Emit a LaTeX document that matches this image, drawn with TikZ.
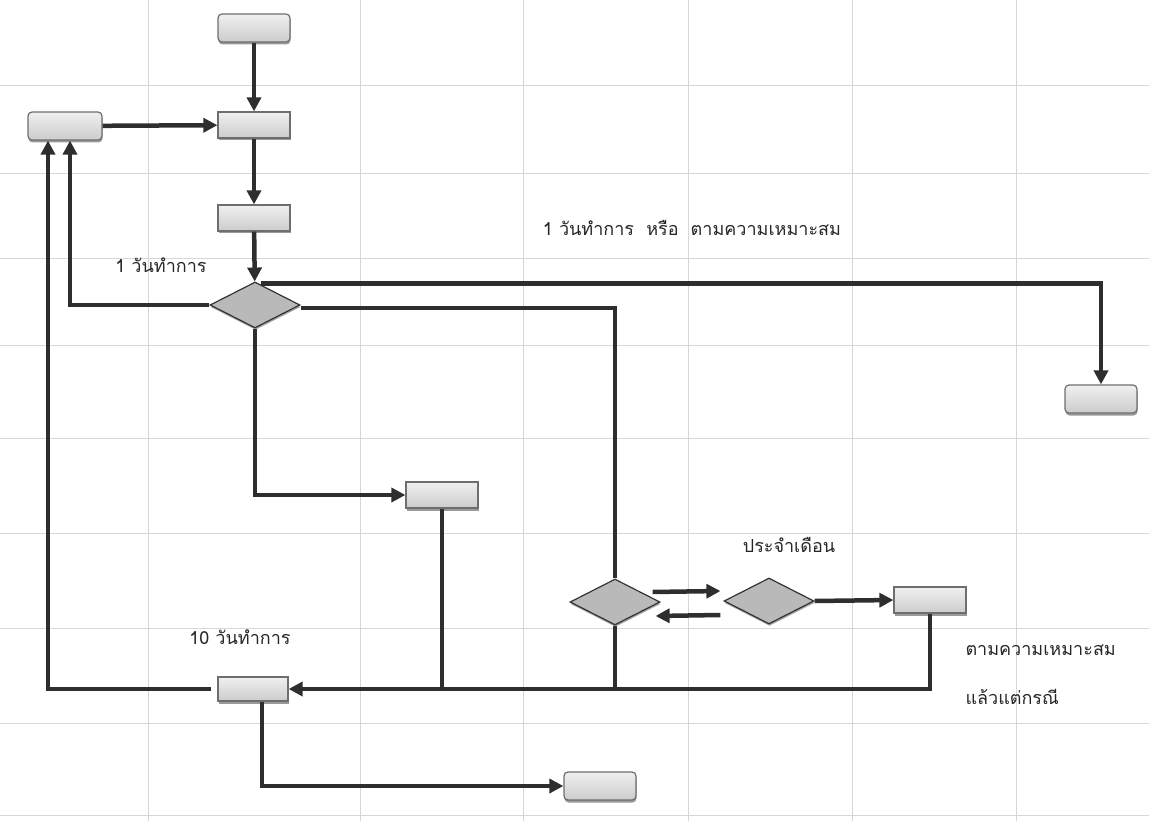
\documentclass[tikz,border=0pt]{standalone}
\usepackage{fontspec}
\newfontfamily\thaifont[Script=Thai]{Loma}
\usepackage{tikz}
\usetikzlibrary{positioning,calc,arrows.meta,shapes.geometric,shadows}
\usepackage{xcolor}
\definecolor{linegray}{HTML}{2E2E2E}
\definecolor{boxedge}{HTML}{6E6E6E}
\definecolor{gridgray}{HTML}{D6D6DC}

\begin{document}
\begin{tikzpicture}[x=1pt,y=-1pt,
  procbox/.style={rectangle,draw=boxedge,line width=1.2pt,top color=gray!12,bottom color=gray!40,
    minimum width=72pt,minimum height=26pt,inner sep=0pt,
    drop shadow={shadow xshift=0.5pt,shadow yshift=-2.5pt,opacity=0.8}},
  termbox/.style={procbox,rounded corners=4pt,minimum height=28pt},
  decision/.style={diamond,draw=gray!40!black,line width=1.2pt,fill=gray!55,
    minimum width=90pt,minimum height=46pt,inner sep=0pt,
    drop shadow={shadow xshift=0.5pt,shadow yshift=-2pt,opacity=0.7}},
  flow/.style={draw=linegray,line width=4.5pt,-{Triangle[length=14pt,width=14pt]}},
  link/.style={draw=linegray,line width=4.5pt},
  note/.style={font=\thaifont\fontsize{18}{21}\selectfont,text=black!85}]
\useasboundingbox (0,0) rectangle (1149,821);
% grid
\foreach \gx in {148,360,523,688,852,1016}
  \draw[gridgray,line width=0.8pt] (\gx,0) -- (\gx,821);
\foreach \gy in {85,173,258,345,438,533,628,723,815}
  \draw[gridgray,line width=0.8pt] (0,\gy) -- (1149,\gy);
% shapes
\node[termbox] (start) at (254,28) {};
\node[termbox,minimum width=74pt] (back) at (65,126) {};
\node[procbox] (check) at (254,125) {};
\node[procbox] (record) at (254,218) {};
\node[decision] (choose) at (255,305) {};
\node[termbox] (endright) at (1101,399) {};
\node[procbox] (assign) at (442,495) {};
\node[decision] (review) at (615,602) {};
\node[decision] (monthly) at (769,601) {};
\node[procbox] (report) at (930,600) {};
\node[procbox,minimum width=70pt,minimum height=24pt] (reply) at (253,689) {};
\node[termbox] (endbottom) at (600,786) {};
% labels
\node[note] (t1) at (161,265) {1 วันทำการ};
\node[note] (t2) at (692,228) {1 วันทำการ\ \ หรือ\ \ ตามความเหมาะสม};
\node[note] (t3) at (789,545) {ประจำเดือน};
\node[note] (t4) at (240,637) {10 วันทำการ};
\node[note,anchor=west] (t5) at (962,650) {ตามความเหมาะสม};
\node[note,anchor=west] (t6) at (962,697) {แล้วแต่กรณี};
% connectors
\draw[flow] (start) -- (check);
\draw[flow] (back) -- (check);
\draw[flow] (check) -- (record);
\draw[flow] (record) -- (choose);
\draw[flow] ([xshift=6pt,yshift=-2pt]choose.north) -| (endright.north);
\draw[link] ([yshift=-3pt]choose.east) -| (review.north);
\draw[flow] (choose.west) -| ([xshift=5pt]back.south);
\draw[flow] (choose.south) |- (assign.west);
\draw[link] (assign.south) -- (assign.south |- reply.east);
\draw[link] (review.south) -- (review.south |- reply.east);
\draw[flow] ([xshift=-8pt,yshift=10pt]review.east) -- ([xshift=-3pt,yshift=10pt]monthly.west);
\draw[flow] ([xshift=-3pt,yshift=-14pt]monthly.west) -- ([xshift=-5pt,yshift=-14pt]review.east);
\draw[flow] (monthly.east) -- (report.west);
\draw[flow] (report.south) |- (reply.east);
\draw[flow] ([xshift=-6pt]reply.west) -| ([xshift=-17pt]back.south);
\draw[flow] ([xshift=9pt]reply.south) |- (endbottom.west);
\end{tikzpicture}
\end{document}
